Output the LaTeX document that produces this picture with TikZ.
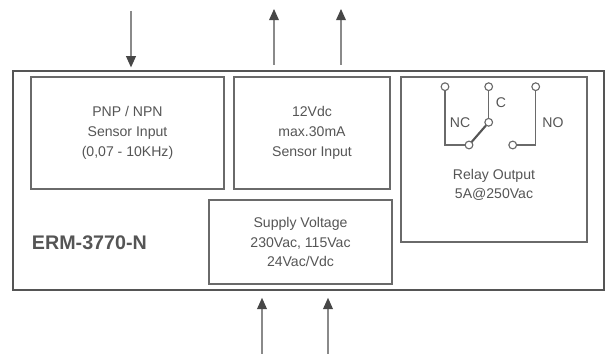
\documentclass[tikz,border=0pt]{standalone}
\usepackage{fontspec}
\setmainfont{Liberation Sans}
\usepackage{xcolor}
\usepackage{tikz}
\usetikzlibrary{calc,arrows.meta}
\definecolor{ink}{HTML}{555555}
\definecolor{frame}{HTML}{555555}
\definecolor{edge}{HTML}{6A6A6A}
\definecolor{shaft}{HTML}{8A8A8A}
\definecolor{head}{HTML}{474747}
\tikzset{
  outer/.style={draw=frame, line width=1.1pt, inner sep=0pt},
  blk/.style={draw=edge, line width=0.8pt, align=center, text=ink, font=\fontsize{10}{14}\selectfont},
  sig/.style={draw=shaft, line width=0.8pt, -{Triangle[length=8pt, width=7pt, color=head]}},
  wire/.style={draw=edge, line width=0.8pt},
  blade/.style={draw=frame, line width=1.5pt},
  term/.style={circle, draw=edge, fill=white, line width=0.8pt, inner sep=0pt, minimum size=5.5pt},
  labm/.style={text=ink, font=\fontsize{10}{14}\selectfont},
  every node/.style={text=ink}
}

\begin{document}
\begin{tikzpicture}[x=0.025cm, y=-0.025cm]
  \useasboundingbox (0,0) rectangle (610,354);

  \node[outer, minimum width=14.775cm, minimum height=5.475cm] (erm) at (308.5,180.5) {};
  \node[blk, minimum width=4.825cm, minimum height=2.8cm] (pnp) at (127.5,133)
    {PNP / NPN\\Sensor Input\\(0,07 - 10KHz)};
  \node[blk, minimum width=3.9cm, minimum height=2.8cm] (supl) at (312,133)
    {12Vdc\\max.30mA\\Sensor Input};
  \node[blk, minimum width=4.575cm, minimum height=2.1cm] (pwr) at (300.5,242)
    {Supply Voltage\\230Vac, 115Vac\\24Vac/Vdc};
  \node[blk, minimum width=4.65cm, minimum height=4.125cm] (relay) at (494,159.5) {};
  \node[text=ink, font=\fontsize{14}{16}\bfseries, anchor=west] (name) at (27,243) {ERM-3770-N};

  \coordinate (in) at (131,11);
  \coordinate (outA) at (274,9);
  \coordinate (outB) at (341,9);
  \coordinate (pwrA) at (262,354);
  \coordinate (pwrB) at (328,354);
  \draw[sig, shorten >=2pt] (in) -- (in |- erm.north);
  \draw[sig, shorten <=4pt] (outA |- erm.north) -- (outA);
  \draw[sig, shorten <=4pt] (outB |- erm.north) -- (outB);
  \draw[sig, shorten >=5pt] (pwrA) -- (pwrA |- erm.south);
  \draw[sig, shorten >=5pt] (pwrB) -- (pwrB |- erm.south);

  \coordinate (nctp) at (445,86.7);
  \coordinate (ncbt) at (469,145);
  \coordinate (ctp) at (488.7,86.7);
  \coordinate (cbt) at (488.7,122.3);
  \coordinate (notp) at (535.7,86.7);
  \coordinate (nobt) at (512.7,145);
  \draw[wire] (nctp) |- (ncbt);
  \draw[wire] (ctp) -- (cbt);
  \draw[wire] (notp) |- (nobt);
  \draw[blade] (cbt) -- (ncbt);
  \foreach \t in {nctp,ncbt,ctp,cbt,notp,nobt}
    \node[term] (\t-o) at (\t) {};

  \node[labm] (lc) at (501,103) {C};
  \node[labm] (lnc) at (460,123) {NC};
  \node[labm] (lno) at (553,123) {NO};
  \node[labm, align=center] (rout) at (494,185) {Relay Output\\5A@250Vac};
\end{tikzpicture}
\end{document}
